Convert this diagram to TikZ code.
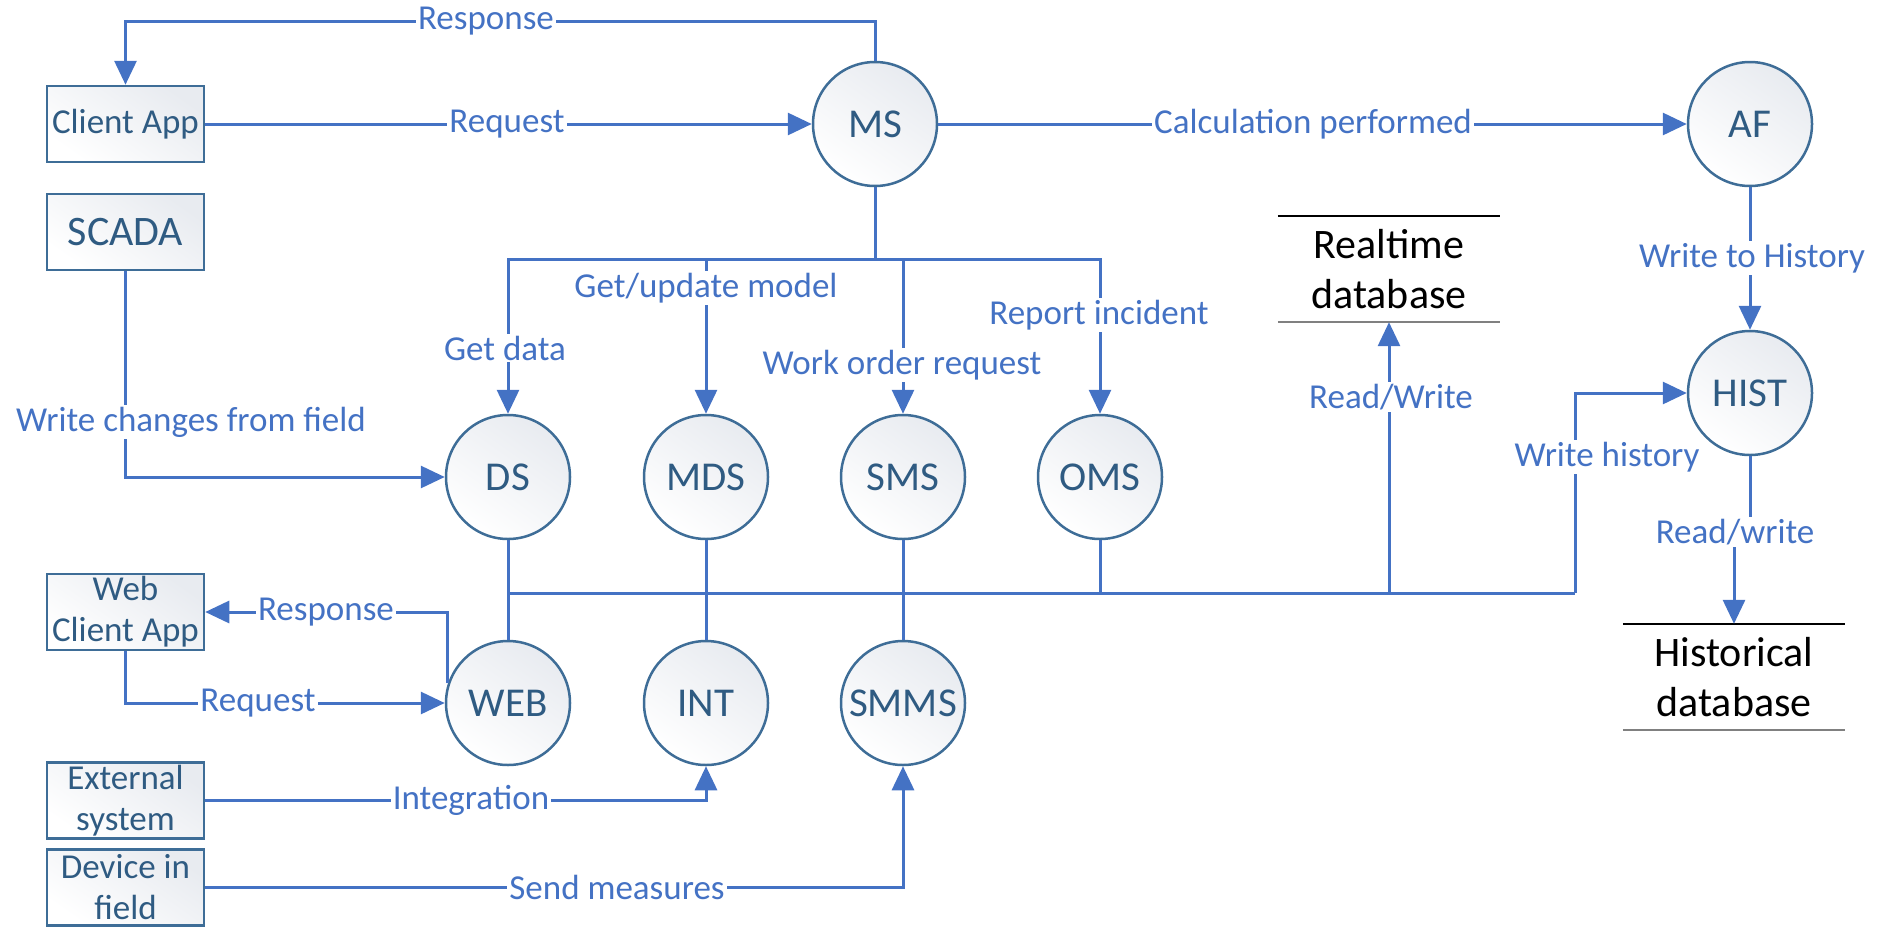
\documentclass[tikz,border=0pt]{standalone}
\usepackage{fontspec}
\setmainfont{Carlito}
\usetikzlibrary{arrows.meta}
\definecolor{flowblue}{HTML}{4472C4}
\definecolor{edgeblue}{HTML}{3E6D97}
\definecolor{inkblue}{HTML}{2F5B82}
\definecolor{shadegray}{HTML}{E8EBF0}
\definecolor{dbgray}{HTML}{808080}

\begin{document}
\begin{tikzpicture}[x=1pt,y=-1pt,
  flow/.style={draw=flowblue, line width=3pt},
  arr/.style={flow, -{Triangle[length=24pt,width=22pt]}},
  proc/.style={circle, draw=edgeblue, line width=2.5pt, minimum size=124pt,
    inner sep=0pt, text=inkblue, font=\fontsize{41}{49}\selectfont,
    top color=shadegray, bottom color=white, shading angle=-35},
  ext/.style={rectangle, draw=edgeblue, line width=2.5pt, minimum width=157pt,
    minimum height=76pt, inner sep=0pt, text=inkblue, align=center,
    font=\fontsize{35}{41}\selectfont,
    top color=shadegray, bottom color=white, shading angle=-35},
  lbl/.style={fill=white, text=flowblue, inner sep=2pt,
    font=\fontsize{35}{41}\selectfont},
  store/.style={minimum width=222pt, minimum height=106pt, inner sep=0pt,
    align=center, text=black, font=\fontsize{42}{50}\selectfont}
]
\useasboundingbox (0,0) rectangle (1888,927);

% external entities
\node[ext] (client)  at (125.5,124) {Client App};
\node[ext, font=\fontsize{42}{50}\selectfont] (scada) at (125.5,232) {SCADA};
\node[ext] (webclient) at (125.5,612) {Web\\Client App};
\node[ext] (external)  at (125.5,800.5) {External\\system};
\node[ext] (device)    at (125.5,887.5) {Device in\\field};

% processes
\node[proc] (MS)   at (875,124)  {MS};
\node[proc] (AF)   at (1750,124) {AF};
\node[proc] (DS)   at (508,477)  {DS};
\node[proc] (MDS)  at (706,477)  {MDS};
\node[proc] (SMS)  at (903,477)  {SMS};
\node[proc] (OMS)  at (1100,477) {OMS};
\node[proc] (WEB)  at (508,703)  {WEB};
\node[proc] (INT)  at (706,703)  {INT};
\node[proc] (SMMS) at (903,703)  {SMMS};
\node[proc] (HIST) at (1750,393) {HIST};

% data stores
\node[store] (rtdb) at (1389,269) {Realtime\\database};
\node[store] (hdb)  at (1734,677) {Historical\\database};
\draw[line width=1.5pt] (rtdb.north west) -- (rtdb.north east);
\draw[dbgray, line width=2.5pt] (rtdb.south west) -- (rtdb.south east);
\draw[line width=1.5pt] (hdb.north west) -- (hdb.north east);
\draw[dbgray, line width=2.5pt] (hdb.south west) -- (hdb.south east);

% junction points
\coordinate (topR)  at (875,21);
\coordinate (busT)  at (875,259);
\coordinate (busBL) at (508,593);
\coordinate (busBR) at (1575,593);
\coordinate (jOMS)  at (1100,593);
\coordinate (jRT)   at (1389,593);

% client request / response
\draw[arr] (client.east) -- (MS.west);
\draw[arr] (MS.north) -- (topR) -| (client.north);
\draw[arr] (MS.east) -- (AF.west);

% MS fan-out
\draw[flow] (MS.south) -- (busT);
\draw[arr] (busT) -| (DS.north);
\draw[arr] (busT) -| (MDS.north);
\draw[arr] (busT) -| (SMS.north);
\draw[arr] (busT) -| (OMS.north);

% SCADA feed
\draw[arr] (scada.south) |- (DS.west);

% lower bus
\draw[flow] (DS.south) -- (WEB.north);
\draw[flow] (MDS.south) -- (INT.north);
\draw[flow] (SMS.south) -- (SMMS.north);
\draw[flow] (OMS.south) -- (jOMS);
\draw[flow] (busBL) -- (busBR);
\draw[arr] (busBR) |- (HIST.west);
\draw[arr] (jRT) -- (rtdb.south);

% history chain
\draw[arr] (AF.south) -- (HIST.north);
\draw[arr] (HIST.south) -- ++(0,78) -| (hdb.north);

% web client
\draw[arr] (WEB.162) |- (webclient.east);
\draw[arr] (webclient.south) |- (WEB.west);

% field inputs
\draw[arr] (external.east) -| (INT.south);
\draw[arr] (device.east) -| (SMMS.south);

% labels
\node[lbl] at (486,21)    {Response};
\node[lbl] at (507,124)   {Request};
\node[lbl] at (1313,124)  {Calculation performed};
\node[lbl] at (706,288)   {Get/update model};
\node[lbl] at (505,348)   {Get data};
\node[lbl] at (902,365)   {Work order request};
\node[lbl] at (1099,315)  {Report incident};
\node[lbl] at (191,422)   {Write changes from field};
\node[lbl] at (1391,397)  {Read/Write};
\node[lbl] at (1607,457)  {Write history};
\node[lbl] at (1752,258)  {Write to History};
\node[lbl] at (1735,532)  {Read/write};
\node[lbl] at (326,612)   {Response};
\node[lbl] at (258,703)   {Request};
\node[lbl] at (471,800)   {Integration};
\node[lbl] at (617,887)   {Send measures};
\end{tikzpicture}
\end{document}
